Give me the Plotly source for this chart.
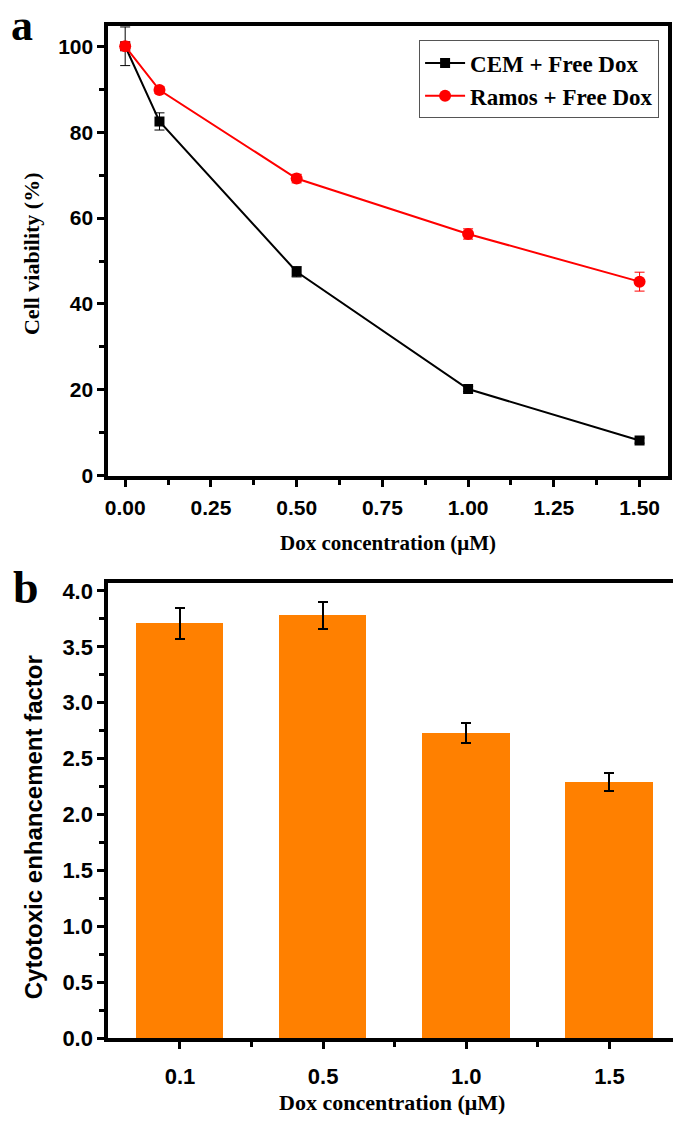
import plotly.graph_objects as go

# ---------------- data ----------------
dox_conc = [0.0, 0.1, 0.5, 1.0, 1.5]
cem_viability = [100.0, 82.5, 47.5, 20.2, 8.2]
cem_err = [4.5, 2.0, 1.2, 0.6, 0.6]
ramos_viability = [100.0, 89.8, 69.2, 56.3, 45.2]
ramos_err = [1.0, 0.8, 1.0, 1.2, 2.2]

bar_labels = ["0.1", "0.5", "1.0", "1.5"]
enh_factor = [3.71, 3.78, 2.73, 2.29]
enh_err = [0.14, 0.12, 0.09, 0.08]

top_xticks = [0.0, 0.25, 0.5, 0.75, 1.0, 1.25, 1.5]
top_xticklabels = ["0.00", "0.25", "0.50", "0.75", "1.00", "1.25", "1.50"]
top_yticks = [0, 20, 40, 60, 80, 100]
bot_yticks = [0.0, 0.5, 1.0, 1.5, 2.0, 2.5, 3.0, 3.5, 4.0]

# ---------------- figure ----------------
W, H = 673, 1128
SANS = "Liberation Sans, Arial, sans-serif"
SERIF = "Liberation Serif, Times New Roman, serif"

def px_x(p):
    return p / W

def px_y(p):
    return 1 - p / H

fig = go.Figure()

fig.add_trace(go.Scatter(
    x=dox_conc, y=cem_viability, name="CEM + Free Dox",
    mode="lines+markers",
    line=dict(color="black", width=2),
    marker=dict(symbol="square", size=10, color="black"),
    error_y=dict(type="data", array=cem_err, visible=True, color="black",
                 thickness=1, width=5),
    xaxis="x", yaxis="y",
))
fig.add_trace(go.Scatter(
    x=dox_conc, y=ramos_viability, name="Ramos + Free Dox",
    mode="lines+markers",
    line=dict(color="#FF0000", width=2),
    marker=dict(symbol="circle", size=12, color="#FF0000"),
    error_y=dict(type="data", array=ramos_err, visible=True, color="#FF0000",
                 thickness=1, width=5),
    xaxis="x", yaxis="y",
))

bar_pos = list(range(len(bar_labels)))
fig.add_trace(go.Bar(
    x=bar_pos, y=enh_factor, width=0.61,
    marker=dict(color="#FF8000", line=dict(width=0)),
    error_y=dict(type="data", array=enh_err, visible=True, color="black",
                 thickness=2, width=5),
    showlegend=False,
    xaxis="x2", yaxis="y2",
))

axis_common = dict(
    showline=True, linecolor="black", linewidth=4, mirror=False,
    ticks="outside", ticklen=7, tickwidth=3, tickcolor="black",
    showgrid=False, zeroline=False,
)
minor_common = dict(ticks="outside", ticklen=5, tickwidth=3, tickcolor="black")

fig.update_layout(
    width=W, height=H,
    margin=dict(l=0, r=0, t=0, b=0),
    paper_bgcolor="white", plot_bgcolor="white",
    bargap=0,
    xaxis=dict(
        axis_common, mirror=True,
        domain=[px_x(105), px_x(668)], anchor="y",
        range=[-0.049, 1.583],
        tickvals=top_xticks, ticktext=top_xticklabels,
        tickfont=dict(family=SANS, size=21, color="black", weight="bold"),
        ticklabelstandoff=3,
        minor=dict(minor_common, tickvals=[0.125, 0.375, 0.625, 0.875, 1.125, 1.375]),
    ),
    yaxis=dict(
        axis_common, mirror=True,
        domain=[px_y(479), px_y(22)], anchor="x",
        range=[0, 104.8],
        tickvals=top_yticks,
        tickfont=dict(family=SANS, size=21, color="black", weight="bold"),
        minor=dict(minor_common, tickvals=[10, 30, 50, 70, 90]),
    ),
    xaxis2=dict(
        axis_common, mirror=True,
        domain=[px_x(105), 1.0], anchor="y2",
        range=[-0.5, 3.444],
        tickvals=bar_pos, ticktext=bar_labels,
        tickfont=dict(family=SANS, size=22, color="black", weight="bold"),
        ticklabelstandoff=8,
        minor=dict(minor_common, tickvals=[0.5, 1.5, 2.5]),
    ),
    yaxis2=dict(
        axis_common,
        domain=[px_y(1050), px_y(588)], anchor="x2",
        range=[0, 4.07],
        tickvals=bot_yticks,
        tickformat=".1f",
        tickfont=dict(family=SANS, size=22, color="black", weight="bold"),
        minor=dict(minor_common, tickvals=[0.25, 0.75, 1.25, 1.75, 2.25, 2.75, 3.25, 3.75]),
    ),
    legend=dict(
        x=px_x(659), y=px_y(37), xanchor="right", yanchor="top",
        bgcolor="white", bordercolor="#555555", borderwidth=1,
        font=dict(family=SERIF, size=23, color="black", weight="bold"),
        tracegroupgap=0, itemwidth=40,
    ),
    showlegend=True,
)

annotations = [
    dict(text="a", x=px_x(18), y=px_y(22), font=dict(family=SERIF, size=44, color="black", weight="bold")),
    dict(text="b", x=px_x(22), y=px_y(592), font=dict(family=SERIF, size=46, color="black", weight="bold")),
    dict(text="Dox concentration (μM)", x=px_x(386), y=px_y(547),
         font=dict(family=SERIF, size=21, color="black", weight="bold")),
    dict(text="Dox concentration (μM)", x=px_x(390), y=px_y(1115),
         font=dict(family=SERIF, size=22, color="black", weight="bold")),
    dict(text="Cell viability (%)", x=px_x(27), y=px_y(253), textangle=-90,
         font=dict(family=SERIF, size=22, color="black", weight="bold")),
    dict(text="Cytotoxic enhancement factor", x=px_x(30), y=px_y(836), textangle=-90,
         font=dict(family=SANS, size=24, color="black", weight="bold")),
]
for a in annotations:
    a.update(xref="paper", yref="paper", showarrow=False, xanchor="center", yanchor="middle")
fig.update_layout(annotations=annotations)

fig.write_html("out.html")
